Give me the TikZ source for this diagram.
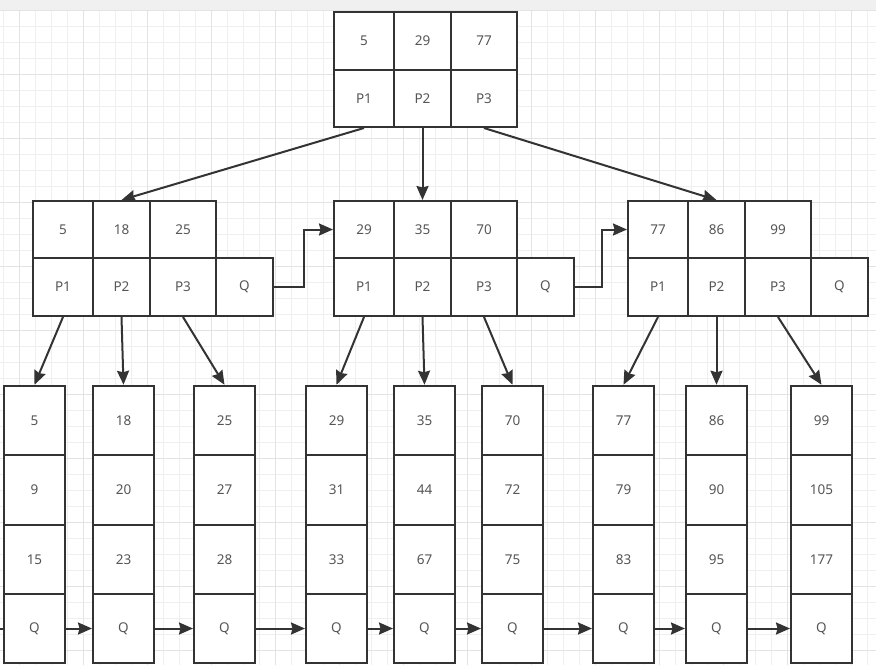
\documentclass[tikz,border=0pt]{standalone}
\usepackage{fontspec}
\setmainfont{Noto Sans}
\usetikzlibrary{arrows.meta}

\definecolor{edge}{HTML}{333333}
\definecolor{txt}{HTML}{555555}
\definecolor{gridminor}{HTML}{EFEFEF}
\definecolor{gridmajor}{HTML}{E3E3E3}
\definecolor{topband}{HTML}{F0F0F0}

\tikzset{
  cell/.style={draw=edge, line width=2pt, fill=white, inner sep=0pt, text=txt,
    font=\fontsize{13.5}{15}\selectfont},
  leaf/.style={cell, minimum width=61pt, minimum height=69.5pt},
  arr/.style={draw=edge, line width=2pt, -{Stealth[length=14pt,width=12pt,inset=1.5pt]}},
}

\begin{document}
\begin{tikzpicture}[x=1pt, y=-1pt]
  \useasboundingbox (0,0) rectangle (876,665);
  \fill[white] (0,0) rectangle (876,665);
  \fill[topband] (0,0) rectangle (876,10);
  % grid
  \foreach \gx in {3,19,...,875} \draw[gridminor, line width=1pt] (\gx,10) -- (\gx,665);
  \foreach \gy in {10,26,...,665} \draw[gridminor, line width=1pt] (0,\gy) -- (876,\gy);
  \foreach \gx in {19,83,...,875} \draw[gridmajor, line width=1pt] (\gx,10) -- (\gx,665);
  \foreach \gy in {10,74,...,665} \draw[gridmajor, line width=1pt] (0,\gy) -- (876,\gy);

  % root
  \node[cell, minimum width=60pt, minimum height=58pt] (r-k1) at (364,41) {5};
  \node[cell, minimum width=57pt, minimum height=58pt] (r-k2) at (422.5,41) {29};
  \node[cell, minimum width=66pt, minimum height=58pt] (r-k3) at (484,41) {77};
  \node[cell, minimum width=60pt, minimum height=57pt] (r-p1) at (364,98.5) {P1};
  \node[cell, minimum width=57pt, minimum height=57pt] (r-p2) at (422.5,98.5) {P2};
  \node[cell, minimum width=66pt, minimum height=57pt] (r-p3) at (484,98.5) {P3};

  % second level
  \foreach \n/\x/\ka/\kb/\kc in {a/33/5/18/25, b/334/29/35/70, c/628/77/86/99} {
    \node[cell, minimum width=60pt, minimum height=57pt] (\n-k1) at (\x+30,229.5) {\ka};
    \node[cell, minimum width=57pt, minimum height=57pt] (\n-k2) at (\x+88.5,229.5) {\kb};
    \node[cell, minimum width=66pt, minimum height=57pt] (\n-k3) at (\x+150,229.5) {\kc};
    \node[cell, minimum width=60pt, minimum height=58pt] (\n-p1) at (\x+30,287) {P1};
    \node[cell, minimum width=57pt, minimum height=58pt] (\n-p2) at (\x+88.5,287) {P2};
    \node[cell, minimum width=66pt, minimum height=58pt] (\n-p3) at (\x+150,287) {P3};
    \node[cell, minimum width=57pt, minimum height=58pt] (\n-q) at (\x+211.5,287) {Q};
  }

  % leaves
  \foreach \x/\va/\vb/\vc [count=\i] in {4/5/9/15, 93/18/20/23, 194/25/27/28,
      306/29/31/33, 394/35/44/67, 482/70/72/75, 593/77/79/83, 686/86/90/95, 791/99/105/177} {
    \node[leaf] (f\i-1) at (\x+30.5,420.5) {\va};
    \node[leaf] (f\i-2) at (\x+30.5,490) {\vb};
    \node[leaf] (f\i-3) at (\x+30.5,559.5) {\vc};
    \node[leaf] (f\i-4) at (\x+30.5,628.5) {Q};
  }

  % links
  \draw[arr] (r-p1.south) -- (a-k2.north);
  \draw[arr] (r-p2.south) -- (b-k2.north);
  \draw[arr] (r-p3.south) -- (c-k2.north);
  \draw[arr] (a-q.east) -- ++(30,0) |- (b-k1.west);
  \draw[arr] (b-q.east) -- ++(27,0) |- (c-k1.west);
  \foreach \n/\s in {a/0, b/3, c/6} {
    \foreach \p in {1,2,3} {
      \pgfmathtruncatemacro\t{\s+\p}
      \draw[arr] (\n-p\p.south) -- (f\t-1.north);
    }
  }
  \coordinate (in) at (0,628.5);
  \draw[draw=edge, line width=2pt] (in) -- (f1-4.west);
  \foreach \i [evaluate=\i as \j using int(\i+1)] in {1,...,8}
    \draw[arr] (f\i-4.east) -- (f\j-4.west);
\end{tikzpicture}
\end{document}
